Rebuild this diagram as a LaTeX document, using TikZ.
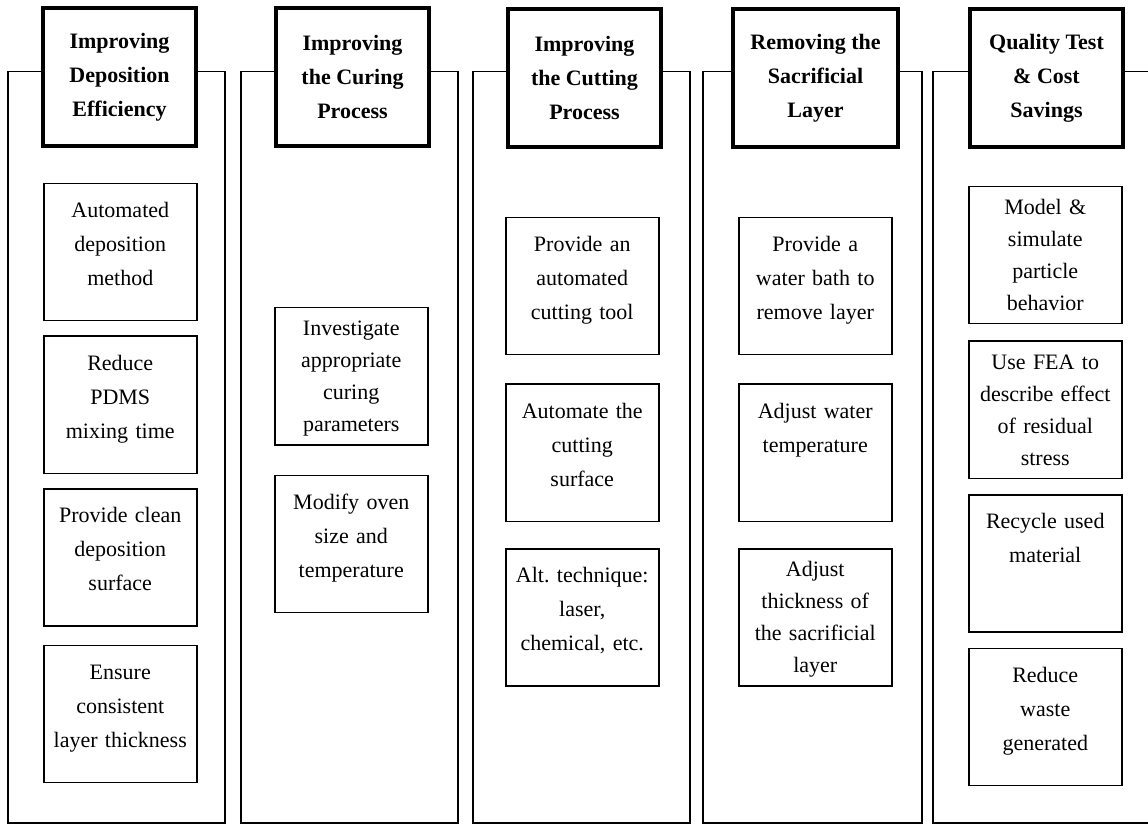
\documentclass[tikz,border=0pt]{standalone}
\usepackage{fontspec}
\setmainfont{Liberation Serif}
\usetikzlibrary{positioning}
\frenchspacing

\begin{document}
\begin{tikzpicture}[x=0.5pt, y=-0.5pt,
  font=\fontsize{11}{17}\selectfont,
  column/.style={draw, line width=0.75pt, anchor=north west, minimum height=375.5pt, inner sep=0pt},
  head/.style={draw, line width=2pt, fill=white, align=center, anchor=north west, minimum width=76.5pt, minimum height=69pt, inner sep=0pt, font=\bfseries\fontsize{11}{17}\selectfont},
  item/.style={draw, line width=0.75pt, fill=white, align=center, anchor=north west, text width=72pt, inner xsep=2.25pt, inner ysep=8pt, text height=9pt, text depth=43.5pt},
  longitem/.style={item, font=\fontsize{11}{16}\selectfont, text height=6pt, text depth=46.5pt}]
  \useasboundingbox (0,0) rectangle (1148,824);

  \node[column, minimum width=108.5pt] (depo) at (7,71) {};
  \node[column, minimum width=108.5pt] (cure) at (240,71) {};
  \node[column, minimum width=108.5pt] (cut) at (472,71) {};
  \node[column, minimum width=109.5pt] (sacr) at (702,71) {};
  \node[column, minimum width=110pt] (qual) at (932,71) {};

  \node[head] (depohead) at (41,6) {Improving\\Deposition\\Efficiency};
  \node[head] (curehead) at (274,6) {Improving\\the Curing\\Process};
  \node[head] (cuthead) at (506,7) {Improving\\the Cutting\\Process};
  \node[head, minimum width=82.5pt] (sacrhead) at (731,7) {Removing the\\Sacrificial\\Layer};
  \node[head] (qualhead) at (968,7) {Quality Test\\\& Cost\\Savings};

  \node[item] (depo1) at (43,183) {Automated\\deposition\\method};
  \node[item, below=7pt of depo1] (depo2) {Reduce\\PDMS\\mixing time};
  \node[item, below=7pt of depo2] (depo3) {Provide clean\\deposition\\surface};
  \node[item, below=9pt of depo3] (depo4) {Ensure\\consistent\\layer thickness};

  \node[longitem] (cure1) at (274,307) {Investigate\\appropriate\\curing\\parameters};
  \node[item, below=14.5pt of cure1] (cure2) {Modify oven\\size and\\temperature};

  \node[item] (cut1) at (505,217) {Provide an\\automated\\cutting tool};
  \node[item, below=14pt of cut1] (cut2) {Automate the\\cutting\\surface};
  \node[item, below=13pt of cut2] (cut3) {Alt. technique:\\laser,\\chemical, etc.};

  \node[item] (sacr1) at (738,217) {Provide a\\water bath to\\remove layer};
  \node[item, below=14pt of sacr1] (sacr2) {Adjust water\\temperature};
  \node[longitem, below=13pt of sacr2] (sacr3) {Adjust\\thickness of\\the sacrificial\\layer};

  \node[longitem] (qual1) at (968,186) {Model \&\\simulate\\particle\\behavior};
  \node[longitem, below=8pt of qual1] (qual2) {Use FEA to\\describe effect\\of residual\\stress};
  \node[item, below=7.5pt of qual2] (qual3) {Recycle used\\material};
  \node[item, below=7.5pt of qual3] (qual4) {Reduce\\waste\\generated};
\end{tikzpicture}
\end{document}
